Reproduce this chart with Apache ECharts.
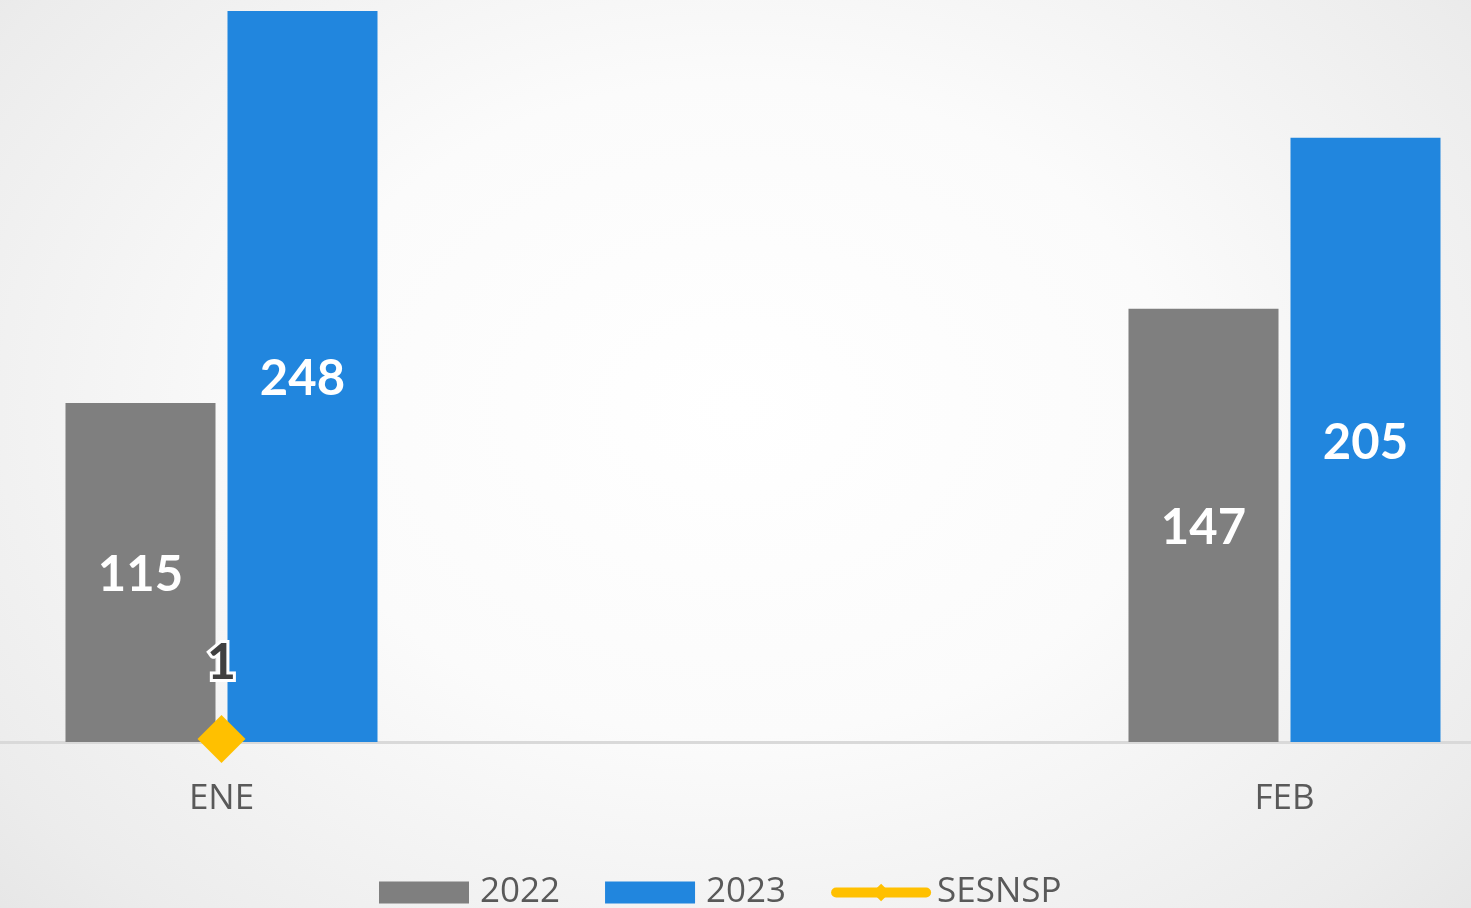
<!DOCTYPE html>
<html>
<head>
<meta charset="utf-8">
<script src="https://cdn.jsdelivr.net/npm/echarts@6/dist/echarts.min.js"></script>
<style>
  html, body { margin: 0; padding: 0; }
  body {
    width: 1471px;
    height: 908px;
    background: radial-gradient(ellipse 75% 90% at 50% 45%, #ffffff 0%, #fbfbfb 40%, #ececec 80%, #e2e2e2 100%);
  }
  #chart { width: 1471px; height: 908px; }
</style>
</head>
<body>
<div id="chart"></div>
<script>
// datos
const categories = ["ENE", "FEB"];
const data2022 = [115, 147];
const data2023 = [248, 205];
const dataSesnsp = [1, null];

const chart = echarts.init(document.getElementById("chart"));

const barLabel = {
  show: true,
  position: "inside",
  color: "#ffffff",
  fontFamily: "Lato",
  fontWeight: "bold",
  fontSize: 49,
  offset: [0, 3],
};

chart.setOption({
  animation: false,
  color: ["#7f7f7f", "#2186de", "#ffc000"],
  legend: {
    left: 374,
    top: 870,
    itemWidth: 90,
    itemHeight: 22,
    itemGap: 45,
    textStyle: {
      color: "#595959",
      fontFamily: "Open Sans",
      fontSize: 35,
      padding: [0, 0, 0, 6],
    },
    data: [
      { name: "2022", icon: "rect" },
      { name: "2023", icon: "rect" },
      {
        name: "SESNSP",
        lineStyle: { width: 10, cap: "round", color: "#ffc000" },
      },
    ],
  },
  grid: {
    left: -310,
    width: 2126,
    top: 11,
    bottom: 166,
    containLabel: false,
    outerBoundsMode: "none",
  },
  xAxis: {
    type: "category",
    data: categories,
    axisTick: { show: false },
    axisLine: {
      lineStyle: { color: "#d9d9d9", width: 3 },
    },
    axisLabel: {
      color: "#595959",
      fontFamily: "Open Sans",
      fontSize: 35,
      margin: 40,
    },
  },
  yAxis: {
    type: "value",
    min: 0,
    max: 248,
    show: false,
    splitLine: { show: false },
  },
  series: [
    {
      name: "2022",
      type: "bar",
      data: data2022,
      barWidth: 150,
      barGap: "8%",
      itemStyle: { color: "#7f7f7f" },
      label: barLabel,
    },
    {
      name: "2023",
      type: "bar",
      data: data2023,
      barWidth: 150,
      itemStyle: { color: "#2186de" },
      label: barLabel,
    },
    {
      name: "SESNSP",
      type: "line",
      data: dataSesnsp,
      z: 5,
      symbol: "diamond",
      symbolSize: 48,
      lineStyle: { color: "#ffc000", width: 10, cap: "round" },
      itemStyle: { color: "#ffc000" },
      label: {
        show: true,
        position: "top",
        distance: 27,
        color: "#404040",
        fontFamily: "Lato",
        fontWeight: "bold",
        fontSize: 50,
        textBorderColor: "#ffffff",
        textBorderWidth: 6,
      },
    },
  ],
});
</script>
</body>
</html>
